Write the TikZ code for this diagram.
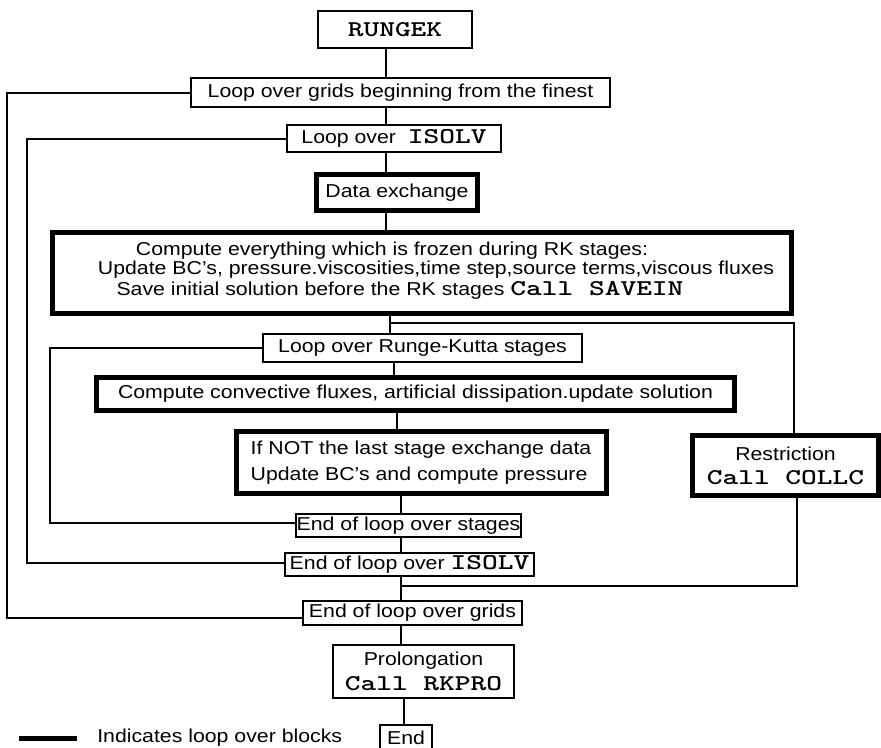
\documentclass[tikz,border=0pt]{standalone}
\usepackage{fontspec}
\setmainfont{Liberation Sans}[FakeStretch=1.14]
\setmonofont{lmmonolt10-bold}[Extension=.otf, BoldFont=lmmonolt10-bold, FakeStretch=1.33]

% routine names in typewriter type, one full character cell per blank
\newcommand{\code}[1]{{\fontsize{16.9}{20}\selectfont\ttfamily\bfseries #1}}
\newcommand{\cellgap}{\hspace{0.698em}}

\begin{document}
\begin{tikzpicture}[x=0.75pt, y=-0.75pt,
  every node/.style={font=\fontsize{14}{20}\selectfont},
  thinbox/.style={draw, line width=1.5pt, inner sep=0pt, anchor=center},
  thickbox/.style={draw, line width=3.75pt, inner sep=0pt, anchor=center},
  sz/.style 2 args={minimum width=#1pt, minimum height=#2pt},
  link/.style={line width=1.5pt}]

\fill[white] (0,0) rectangle (881,747);
\useasboundingbox (0,0) rectangle (881,747);

% ---- boxes ----
\node[thinbox, sz={115.5}{27.75}] (rungek) at (395,29.5) {\code{RUNGEK}};
\node[thinbox, sz={314.25}{21.75}] (grids) at (400.5,92.5) {Loop over grids beginning from the finest};
\node[thinbox, sz={160.5}{20.25}] (isolv) at (394,138.5) {Loop over\ \ \code{ISOLV}};
\node[thickbox, sz={120.75}{27}] (dataex) at (397,192.5) {Data exchange};
\node[thickbox, sz={554.25}{60.75}] (compute) at (422,273) {};
\node (cl1) at (392,251) {Compute everything which is frozen during RK stages:};
\node (cl2) at (436,270) {Update BC’s, pressure.viscosities,time step,source terms,viscous fluxes};
\node (cl3) at (400,290) {Save initial solution before the RK stages \code{Call\cellgap SAVEIN}};
\node[thinbox, sz={239.25}{21}] (rk) at (422.5,348) {Loop over Runge-Kutta stages};
\node[thickbox, sz={478.5}{24.75}] (conv) at (415.5,394) {Compute convective fluxes, artificial dissipation.update solution};
\node[thickbox, sz={277.5}{46.5}, align=left] (ifbox) at (421,462.5)
  {If NOT the last stage exchange data\\Update BC’s and compute pressure};
\node[thickbox, sz={139.5}{45}, align=center] (restr) at (785.5,465.5)
  {Restriction\\[-2pt]\code{Call\cellgap COLLC}};
\node[thinbox, sz={168.75}{17.25}] (endstages) at (408.5,525.5) {End of loop over stages};
\node[thinbox, sz={186.75}{17.25}] (endisolv) at (409.5,564.5) {End of loop over \code{ISOLV}};
\node[thinbox, sz={164.25}{18}] (endgrids) at (412.5,613) {End of loop over grids};
\node[thinbox, sz={135.75}{39.75}, align=center] (prolong) at (423.5,671.5)
  {Prolongation\\[-1pt]\code{Call\cellgap RKPRO}};
\node[thinbox, sz={39}{18.75}] (endnode) at (406,737.5) {End};

% ---- main flow ----
\coordinate (sA) at (386,0);
\coordinate (sC) at (390,0);
\coordinate (sD) at (394,0);
\coordinate (sE) at (397,0);
\coordinate (sF) at (401,0);
\coordinate (sH) at (404,0);
\draw[link] (rungek.south -| sA) -- (grids.north -| sA);
\draw[link] (grids.south -| sA) -- (isolv.north -| sA);
\draw[link] (isolv.south -| sA) -- (dataex.north -| sA);
\draw[link] (dataex.south -| sA) -- (compute.north -| sA);
\draw[link] (compute.south -| sC) -- (rk.north -| sC);
\draw[link] (rk.south -| sD) -- (conv.north -| sD);
\draw[link] (conv.south -| sE) -- (ifbox.north -| sE);
\draw[link] (ifbox.south -| sF) -- (endstages.north -| sF);
\draw[link] (endstages.south -| sF) -- (endisolv.north -| sF);
\draw[link] (endisolv.south -| sF) -- (endgrids.north -| sF);
\draw[link] (endgrids.south -| sF) -- (prolong.north -| sF);
\draw[link] (prolong.south -| sH) -- (endnode.north -| sH);

% ---- restriction branch ----
\coordinate (br) at (390,323);
\coordinate (rx) at (794,0);
\coordinate (rx2) at (797,0);
\coordinate (rj) at (401,586);
\draw[link] (br) -| (restr.north -| rx);
\draw[link] (restr.south -| rx2) |- (rj);

% ---- loop returns ----
\coordinate (gL) at (7,618);
\coordinate (iL) at (26.5,563);
\coordinate (kL) at (50,523);
\draw[link] (grids.west) -| (gL) -- (endgrids.west |- gL);
\draw[link] (isolv.west) -| (iL) -- (endisolv.west |- iL);
\draw[link] (rk.west) -| (kL) -- (endstages.west |- kL);

% ---- legend ----
\coordinate (barL) at (19,738);
\coordinate (barR) at (77,738);
\draw[line width=3.75pt] (barL) -- (barR);
\node[anchor=west, inner sep=0pt] (legend) at (97,738) {Indicates loop over blocks};
\end{tikzpicture}
\end{document}
